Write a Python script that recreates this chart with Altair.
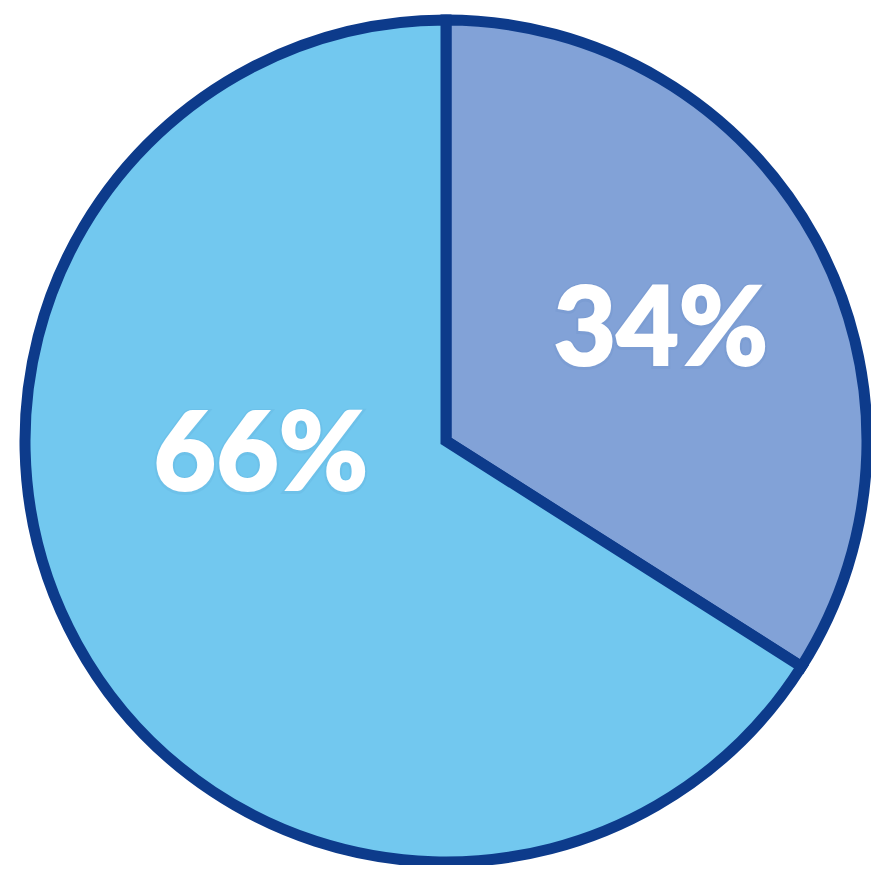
import altair as alt
import pandas as pd

categories = ["B", "A"]
values = [34, 66]
labels = ["34%", "66%"]
colors = ["#82a2d7", "#72c8ef"]
order = [1, 2]

df = pd.DataFrame({"cat": categories, "value": values, "label": labels, "order": order})

color_scale = alt.Scale(domain=categories, range=colors)

base = alt.Chart(df).encode(
    theta=alt.Theta("value:Q", stack=True),
    order=alt.Order("order:Q"),
)

pie = base.mark_arc(outerRadius=421, stroke="#0d3b8b", strokeWidth=11, strokeJoin="miter").encode(
    color=alt.Color("cat:N", scale=color_scale, legend=None)
)


def label_layer(cat, r, dx, dy, col, opacity=1.0, extra=None):
    kw = dict(radius=r, dx=dx, dy=dy, font="Lato", fontWeight=900, fontSize=108,
              color=col, opacity=opacity, align="center", baseline="middle")
    if extra:
        kw.update(extra)
    return base.mark_text(**kw).encode(
        text=alt.condition(alt.datum.cat == cat, "label:N", alt.value(""))
    )


shadow_extra = {"stroke": "#1b4c95", "strokeWidth": 6, "strokeOpacity": 0.22}
white_extra = {"stroke": "white", "strokeWidth": 2}
t34s = label_layer("B", 244, 1, 11, "#1b4c95", 0.25, shadow_extra)
t66s = label_layer("A", 185, -23, -71, "#1b4c95", 0.25, shadow_extra)
t34 = label_layer("B", 244, 1, 10, "white", 1.0, white_extra)
t66 = label_layer("A", 185, -23, -72, "white", 1.0, white_extra)

chart = alt.layer(pie, t34s, t66s, t34, t66).properties(
    width=850, height=848,
    autosize=alt.AutoSizeParams(type="none"),
    padding={"left": 13, "top": 9, "right": 0, "bottom": 0},
).configure_view(stroke=None).configure(background="white")

chart.save("out.html", embed_options={"renderer": "svg", "actions": False})
